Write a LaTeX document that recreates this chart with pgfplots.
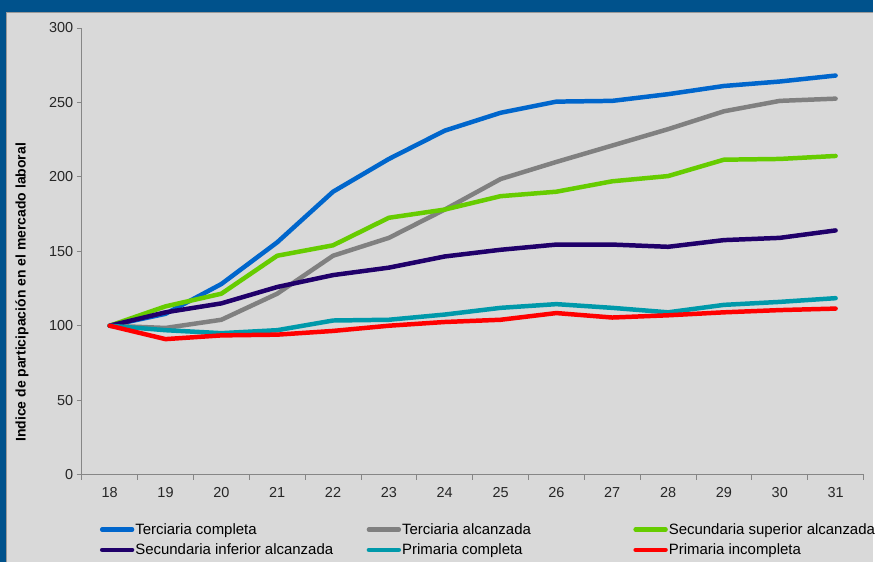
\documentclass[border=0pt]{standalone}
\usepackage{fontspec}
\setmainfont{Liberation Sans}
\usepackage{pgfplots}
\pgfplotsset{compat=1.18}

\definecolor{frameblue}{RGB}{0,82,140}
\definecolor{bggray}{RGB}{217,217,217}
\definecolor{axgray}{RGB}{134,134,134}
\definecolor{tercomp}{RGB}{0,102,204}
\definecolor{teralc}{RGB}{128,128,128}
\definecolor{secsup}{RGB}{102,204,0}
\definecolor{secinf}{RGB}{32,0,106}
\definecolor{primcomp}{RGB}{0,153,170}
\definecolor{priminc}{RGB}{255,0,0}

\begin{document}
\begin{tikzpicture}
% fondo y marco
\begin{scope}[x=1pt,y=1pt]
\fill[bggray] (0,0) rectangle (876,564);
\fill[frameblue] (0,552) rectangle (876,564);
\fill[frameblue] (0,0) rectangle (6,564);
\draw[gray!80, line width=0.8pt] (6.4,0) -- (6.4,551.6) -- (876,551.6);
\path[use as bounding box] (0,0) rectangle (876,564);
\end{scope}

\begin{axis}[
    at={(82pt,88pt)}, anchor=south west,
    scale only axis,
    width=784pt, height=448pt,
    xmin=17.5, xmax=31.5,
    ymin=0, ymax=300,
    axis x line*=bottom, axis y line*=left,
    axis line style={axgray, line width=1pt},
    xtick={18,...,31},
    minor xtick={17.5,18.5,...,31.5},
    ytick={0,50,...,300},
    tick align=outside,
    major tick length=5pt,
    minor tick length=5pt,
    major x tick style={draw=none},
    minor x tick style={axgray, line width=0.8pt},
    major y tick style={axgray, line width=0.8pt},
    ticklabel style={font=\fontsize{14.5}{17}\selectfont, text=black!85},
    xticklabel style={yshift=-4pt},
    /pgf/number format/assume math mode=true,
    ylabel={\textbf{Indice de participación en el mercado laboral}},
    y label style={at={(axis description cs:-0.0765,0.408)}, anchor=center,
        font=\fontsize{14}{16}\selectfont},
    legend columns=3,
    legend style={at={(axis description cs:0.023,-0.1065)}, anchor=north west,
        draw=none, fill=none, inner sep=0pt, row sep=6pt,
        font=\fontsize{15}{18}\selectfont,
        nodes={inner xsep=1pt, inner ysep=1pt}},
    legend cell align=left,
    legend image code/.code={\draw[#1, line width=4.5pt, line cap=round] (0pt,0pt) -- (30pt,0pt);},
    every axis plot/.append style={line width=4.5pt, line join=round, line cap=round, mark=none},
    clip=false,
]
\addplot[tercomp] coordinates {(18,100)(19,108)(20,128)(21,156)(22,190)(23,212)(24,231)(25,243)(26,250.5)(27,251)(28,255.5)(29,261)(30,264)(31,268)};
\addlegendentry{\makebox[231pt][l]{Terciaria completa}}
\addplot[teralc] coordinates {(18,100)(19,98.5)(20,104)(21,121.5)(22,147)(23,159)(24,178)(25,198.5)(26,210)(27,221)(28,232)(29,244)(30,251)(31,252.5)};
\addlegendentry{\makebox[231pt][l]{Terciaria alcanzada}}
\addplot[secsup] coordinates {(18,100)(19,113)(20,121.5)(21,147)(22,154)(23,172.5)(24,178)(25,187)(26,190)(27,197)(28,200.5)(29,211.5)(30,212)(31,214)};
\addlegendentry{Secundaria superior alcanzada}
\addplot[secinf] coordinates {(18,100)(19,109)(20,115)(21,126)(22,134)(23,139)(24,146.5)(25,151)(26,154.5)(27,154.5)(28,153)(29,157.5)(30,159)(31,164)};
\addlegendentry{\makebox[231pt][l]{Secundaria inferior alcanzada}}
\addplot[primcomp] coordinates {(18,100)(19,97)(20,95)(21,97)(22,103.5)(23,104)(24,107.5)(25,112)(26,114.5)(27,112)(28,109)(29,114)(30,116)(31,118.5)};
\addlegendentry{\makebox[231pt][l]{Primaria completa}}
\addplot[priminc] coordinates {(18,100)(19,91)(20,93.5)(21,94)(22,96.5)(23,100)(24,102.5)(25,104)(26,108.5)(27,105.5)(28,107)(29,109)(30,110.5)(31,111.5)};
\addlegendentry{Primaria incompleta}
\end{axis}
\end{tikzpicture}
\end{document}
